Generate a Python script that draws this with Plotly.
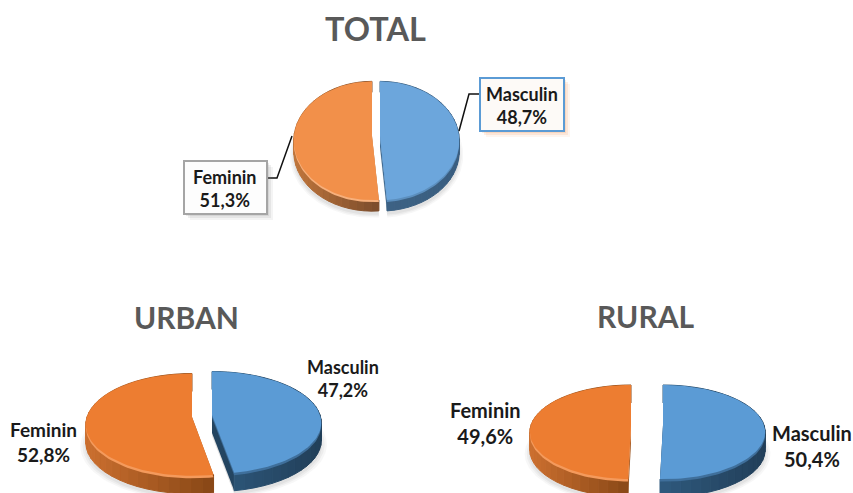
import numpy as np
import plotly.graph_objects as go

categories = ["Masculin", "Feminin"]
total_values = [48.7, 51.3]
urban_values = [47.2, 52.8]
rural_values = [50.4, 49.6]
titles = ["TOTAL", "URBAN", "RURAL"]

FONT = "Lato"
W, H = 853, 493


def hex2rgb(h):
    return np.array([int(h[i:i + 2], 16) for i in (1, 3, 5)], float)


def mix(a, b, t):
    c = hex2rgb(a) * (1 - t) + hex2rgb(b) * t
    return "rgb(%d,%d,%d)" % tuple(c)


def project(theta, g, r=1.0):
    u = r * np.sin(theta)
    v = r * np.cos(theta)
    s = 1 / (1 + g["k"] * v)
    return g["cx"] + g["rx"] * u * s, g["cy"] - g["ry"] * v * s


fig = go.Figure()


def poly(x, y, color, edge=False):
    line = dict(width=1, color=color) if edge else dict(width=0)
    fig.add_trace(go.Scatter(x=list(x), y=list(y), mode="lines", fill="toself",
                             fillcolor=color, line=line, hoverinfo="skip",
                             showlegend=False))


def wedge(a0, a1, g, dy=0.0, scale=1.0):
    th = np.radians(np.linspace(a0, a1, 90))
    x, y = project(th, g, scale)
    ax, ay = project(np.array([0.0]), g, 0.0)
    return (np.r_[ax, x, ax], np.r_[ay, y, ay] + dy)


def draw_slice(a0, a1, g, st):
    d = g["depth"]
    # soft ground shadow
    for sc, al in ((1.05, 0.05), (1.03, 0.06), (1.01, 0.07)):
        x, y = wedge(a0, a1, g, dy=d + 3, scale=sc)
        poly(x, y, "rgba(90,90,90,%.2f)" % al)
    # cut faces
    for a in (a0, a1):
        ex, ey = project(np.radians(np.array([a])), g)
        ax, ay = project(np.array([0.0]), g, 0.0)
        poly([ax[0], ex[0], ex[0], ax[0], ax[0]],
             [ay[0], ey[0], ey[0] + d, ay[0] + d, ay[0]], st["face"])
    # outer wall as shaded strips
    edges = np.radians(np.linspace(a0, a1, 37))
    px, py = project(edges, g)
    lo, hi = px.min(), px.max()
    for i in range(len(edges) - 1):
        t = ((px[i] + px[i + 1]) / 2 - lo) / max(hi - lo, 1)
        poly([px[i], px[i + 1], px[i + 1], px[i], px[i]],
             [py[i], py[i + 1], py[i + 1] + d, py[i] + d, py[i]],
             mix(st["wall_l"], st["wall_r"], t), edge=True)
    # bevel and top surface
    x, y = wedge(a0, a1, g, dy=st["bevel_dy"])
    poly(x, y, st["bevel"])
    x, y = wedge(a0, a1, g)
    poly(x, y, st["top"])


def pie(values, geoms, styles):
    m = values[0] * 3.6
    draw_slice(m, 360, geoms[1], styles[1])
    draw_slice(0, m, geoms[0], styles[0])


top_styles = [
    dict(top="#6CA6DC", bevel="#5C8FBE", bevel_dy=2.0, face="#3F6A92",
         wall_l="#3E6385", wall_r="#3A5E80"),
    dict(top="#F2904A", bevel="#F7B07C", bevel_dy=2.0, face="#A8622F",
         wall_l="#C0763C", wall_r="#7A4C2C"),
]
low_styles = [
    dict(top="#5B9BD5", bevel="#3F6F9B", bevel_dy=2.5, face="#244561",
         wall_l="#2F5A7E", wall_r="#223F59"),
    dict(top="#ED7D31", bevel="#F49A5C", bevel_dy=2.5, face="#A8591F",
         wall_l="#CC7030", wall_r="#874716"),
]

pie(total_values,
    [dict(cx=380, cy=136, rx=79, ry=59, k=0.08, depth=11),
     dict(cx=372, cy=136, rx=78, ry=59, k=0.08, depth=11)], top_styles)
pie(urban_values,
    [dict(cx=212, cy=415, rx=108, ry=50, k=0.15, depth=18),
     dict(cx=192, cy=417, rx=105, ry=50, k=0.15, depth=18)], low_styles)
pie(rural_values,
    [dict(cx=663, cy=425, rx=101, ry=46, k=0.15, depth=18),
     dict(cx=631, cy=425, rx=100, ry=46, k=0.15, depth=18)], low_styles)

shapes = []


def rect(x0, y0, x1, y1, fill, line=None, lw=0):
    shapes.append(dict(type="rect", xref="x", yref="y", x0=x0, y0=y0, x1=x1, y1=y1,
                       fillcolor=fill, line=dict(color=line or "rgba(0,0,0,0)", width=lw),
                       layer="above"))


# label box shadows then boxes
for o, a in ((6, 0.08), (4, 0.12), (2, 0.15)):
    rect(480 + o, 78 + o, 564 + o, 131 + o, "rgba(237,125,49,%.2f)" % a)
    rect(184 + o, 161 + o, 267 + o, 214 + o, "rgba(120,120,120,%.2f)" % a)
rect(480, 78, 564, 131, "#FDFAF7", "#5B9BD5", 2)
rect(184, 161, 267, 214, "#FDFDFD", "#A5A5A5", 2)

# leader lines
for lx, ly in (((459, 469, 480), (131, 94, 94)), ((292, 277, 268), (136, 178, 178))):
    fig.add_trace(go.Scatter(x=lx, y=ly, mode="lines", line=dict(color="#111111", width=1.5),
                             hoverinfo="skip", showlegend=False))


def fmt(v):
    return f"{v:.1f}".replace(".", ",") + "%"


annotations = []


def text(x, y, s, size, color="#1A1A1A"):
    annotations.append(dict(x=x, y=y, xref="x", yref="y", text=s, showarrow=False,
                            xanchor="center", yanchor="middle", align="center",
                            font=dict(family=FONT, size=size, color=color, weight="bold")))


for t, tx, ty, sz in zip(titles, (375, 186, 646), (28, 317, 316), (32.5, 30, 30)):
    text(tx, ty, t, sz, "#595959")

for name, val, lx, ly, sz in (
    (categories[0], total_values[0], 522, 105, 18),
    (categories[1], total_values[1], 225, 188, 18),
    (categories[0], urban_values[0], 343, 378, 18),
    (categories[1], urban_values[1], 43, 442, 19),
    (categories[0], rural_values[0], 812, 446, 20),
    (categories[1], rural_values[1], 485, 423, 20),
):
    text(lx, ly, f"{name}<br>{fmt(val)}", sz)

fig.update_layout(
    width=W, height=H, margin=dict(l=0, r=0, t=0, b=0),
    paper_bgcolor="white", plot_bgcolor="white",
    xaxis=dict(range=[0, W], visible=False, fixedrange=True),
    yaxis=dict(range=[H, 0], visible=False, fixedrange=True),
    showlegend=False, shapes=shapes, annotations=annotations,
)
fig.write_html("out.html", config=dict(displayModeBar=False),
               post_script="document.body.style.margin='0';document.body.style.overflow='hidden';")
